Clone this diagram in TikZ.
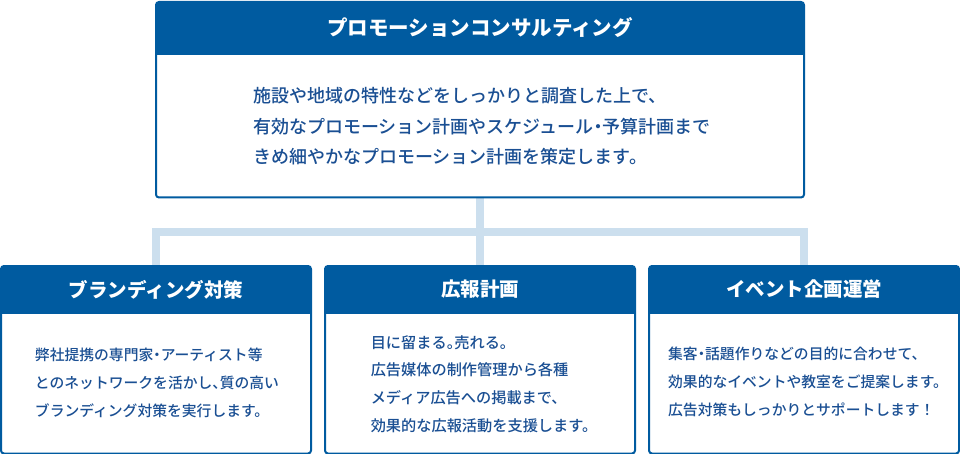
\documentclass[tikz,border=0pt]{standalone}
\usepackage{fontspec}
\newfontfamily\jpfont{Noto Sans CJK JP}
\newfontfamily\jpmed{Noto Sans CJK JP Medium}
\newfontfamily\jphalt[RawFeature=+halt]{Noto Sans CJK JP Medium}
\newcommand\hw[1]{{\jphalt #1}}
\usepackage{tikz}
\usetikzlibrary{backgrounds,calc}
\definecolor{navy}{HTML}{005BA0}
\definecolor{ink}{HTML}{1A4F93}
\definecolor{pale}{HTML}{CCDFEE}

\tikzset{
  card/.style={draw=navy, fill=white, line width=2pt, rounded corners=3pt, inner sep=0pt},
  headline/.style={text=white, inner sep=0pt, font=\jpfont\bfseries\fontsize{19.5}{24}\selectfont},
  blurb/.style={text=ink, align=left, inner sep=0pt, font=\jpmed\fontsize{14.8}{27.8}\selectfont},
  link/.style={draw=pale, line width=8pt},
}

\begin{document}
\begin{tikzpicture}[x=1pt,y=1pt]
\useasboundingbox (0,0) rectangle (960,-454);
% boxes
\node[card, minimum width=648pt, minimum height=195.5pt, anchor=north] (promo) at (480,-1) {};
\node[card, minimum width=310pt, minimum height=187.5pt, anchor=north] (brand) at (156,-265) {};
\node[card, minimum width=310pt, minimum height=187.5pt, anchor=north] (press) at (480,-265) {};
\node[card, minimum width=310pt, minimum height=187.5pt, anchor=north] (event) at (804,-265) {};
% header bands
\fill[navy] ($(promo.north west)+(1,-1)$) rectangle ($(promo.north east)+(-1,-54)$);
\foreach \b in {brand,press,event}
  \fill[navy] ($(\b.north west)+(1,-1)$) rectangle ($(\b.north east)+(-1,-49)$);
% titles
\node[headline, font=\jpfont\bfseries\fontsize{20.5}{24}\selectfont] (promo-title) at (480,-27.5) {プロモーションコンサルティング};
\node[headline] (brand-title) at (156,-289.5) {ブランディング対策};
\node[headline] (press-title) at (480,-289.5) {広報計画};
\node[headline] (event-title) at (804,-289.5) {イベント企画運営};
% texts
\node[blurb, font=\jpmed\fontsize{18}{30.5}\selectfont] (promo-text) at (482,-126.5) {施設や地域の特性などをしっかりと調査した上で、\\有効なプロモーション計画やスケジュール\hw{・}予算計画まで\\きめ細やかなプロモーション計画を策定します。};
\node[blurb] (brand-text) at (157,-383) {弊社提携の専門家\hw{・}アーティスト等\\とのネットワークを活かし\hw{、}質の高い\\ブランディング対策を実行します。};
\node[blurb, font=\jpmed\fontsize{15.2}{27.8}\selectfont] (press-text) at (484,-384) {目に留まる\hw{。}売れる。\\広告媒体の制作管理から各種\\メディア広告への掲載まで、\\効果的な広報活動を支援します。};
\node[blurb] (event-text) at (808,-382) {集客\hw{・}話題作りなどの目的に合わせて、\\効果的なイベントや教室をご提案します。\\広告対策もしっかりとサポートします！};
% connectors
\begin{scope}[on background layer]
\coordinate (hub) at (480,-232);
\draw[link] (promo.south) -- (hub);
\foreach \b in {brand,press,event}
  \draw[link] (hub) -| (\b.north);
\end{scope}
\end{tikzpicture}
\end{document}
